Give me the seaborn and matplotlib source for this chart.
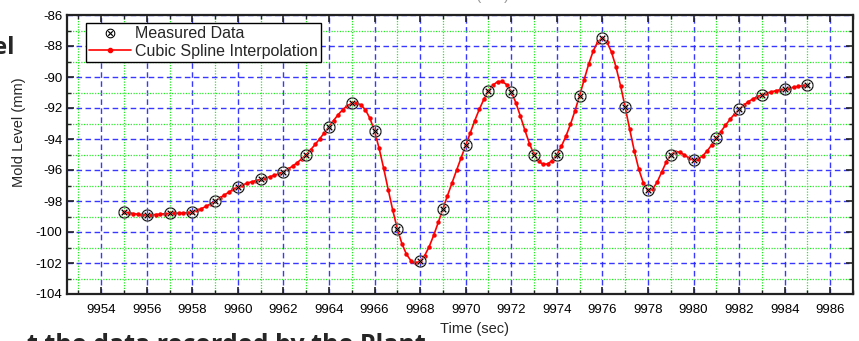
import numpy as np
import pandas as pd
import matplotlib
matplotlib.use("Agg")
import matplotlib.pyplot as plt
import seaborn as sns
from matplotlib.ticker import MultipleLocator
from matplotlib.lines import Line2D

# ---- data ----
time_sec = list(range(9955, 9986))
mold_level = [-98.7, -98.9, -98.8, -98.7, -98.0, -97.1, -96.6, -96.1, -95.0, -93.2,
              -91.7, -93.5, -99.8, -101.9, -98.5, -94.4, -90.9, -90.95, -95.0, -95.0,
              -91.2, -87.5, -91.95, -97.3, -95.0, -95.35, -93.95, -92.08, -91.15, -90.77,
              -90.5]
x_ticks = list(range(9954, 9987, 2))
y_ticks = list(range(-104, -85, 2))
legend_labels = ["Measured Data", "Cubic Spline Interpolation"]


def natural_spline(x, y, xs):
    x = np.asarray(x, float); y = np.asarray(y, float)
    n = len(x)
    h = np.diff(x)
    A = np.zeros((n, n)); b = np.zeros(n)
    A[0, 0] = 1; A[-1, -1] = 1
    for i in range(1, n - 1):
        A[i, i - 1] = h[i - 1]
        A[i, i] = 2 * (h[i - 1] + h[i])
        A[i, i + 1] = h[i]
        b[i] = 3 * ((y[i + 1] - y[i]) / h[i] - (y[i] - y[i - 1]) / h[i - 1])
    c = np.linalg.solve(A, b)
    bb = (y[1:] - y[:-1]) / h - h * (2 * c[:-1] + c[1:]) / 3
    d = (c[1:] - c[:-1]) / (3 * h)
    idx = np.clip(np.searchsorted(x, xs) - 1, 0, n - 2)
    dx = xs - x[idx]
    return y[idx] + bb[idx] * dx + c[idx] * dx ** 2 + d[idx] * dx ** 3


xs = np.linspace(time_sec[0], time_sec[-1], 151)
spline_df = pd.DataFrame({"t": xs, "v": natural_spline(time_sec, mold_level, xs)})
meas_df = pd.DataFrame({"t": time_sec, "v": mold_level})

sns.set_style("ticks")
plt.rcParams["font.family"] = ["Liberation Sans", "DejaVu Sans"]
plt.rcParams["axes.unicode_minus"] = False

fig = plt.figure(figsize=(8.59, 3.41), dpi=100)
ax = fig.add_axes([67 / 859, 47 / 341, 786 / 859, 279 / 341])

ax.xaxis.set_minor_locator(MultipleLocator(1))
ax.yaxis.set_minor_locator(MultipleLocator(1))
ax.set_xticks(x_ticks)
ax.set_yticks(y_ticks)

ax.grid(which="major", color="#2222ff", linestyle=(0, (4, 2.5)), linewidth=1.0, alpha=0.9)
ax.grid(which="minor", color="#22ee22", linestyle=(0, (1, 1.2)), linewidth=0.9)
ax.set_axisbelow(True)

sns.lineplot(data=spline_df, x="t", y="v", ax=ax, color="red", linewidth=1.2,
             marker="o", markersize=3.2, markeredgewidth=0, zorder=3, legend=False)
sns.lineplot(data=meas_df, x="t", y="v", ax=ax, linestyle="none", marker=r"$\otimes$",
             markersize=9, color="black", markeredgewidth=0.2, zorder=4, legend=False)

ax.set_xlim(9952.5, 9987)
ax.set_ylim(-104, -86)

for s in ax.spines.values():
    s.set_linewidth(1.6)
    s.set_color("#222222")
ax.tick_params(which="both", direction="in", top=True, right=True, labelsize=9.5,
               colors="#222222", labelcolor="black")
ax.tick_params(which="major", length=5, width=1.2)
ax.tick_params(which="minor", length=3, width=1.0)
ax.tick_params(axis="x", pad=7)

ax.set_xlabel("Time (sec)", fontsize=10.5, labelpad=1)
ax.set_ylabel("Mold Level (mm)", fontsize=10.5, labelpad=2)
ax.xaxis.set_label_coords(0.519, -0.1)
ax.yaxis.set_label_coords(-0.052, 0.58)

handles = [
    Line2D([], [], linestyle="none", marker=r"$\otimes$", color="black", markersize=7,
           markeredgewidth=0),
    Line2D([], [], color="red", linewidth=1.2, marker="o", markersize=3),
]
leg = ax.legend(handles, legend_labels, loc="upper left", bbox_to_anchor=(0.024, 0.971),
                fontsize=11.5, frameon=True, fancybox=False, framealpha=1,
                edgecolor="black", borderpad=0.2, handletextpad=0.25,
                labelspacing=0.15, handlelength=2.6, borderaxespad=0)
leg.get_frame().set_linewidth(1.0)

# cropped fragments of surrounding page text
fig.text(14 / 859, 1 - 48 / 341, "Mold Level", ha="right", va="center",
         fontsize=17, fontweight="bold", family=["Open Sans", "DejaVu Sans"])
fig.text(27 / 859, 1 - 352 / 341, "t the data recorded by the Plant", ha="left",
         va="baseline", fontsize=18, fontweight="bold", family=["Open Sans", "DejaVu Sans"])
fig.text(475 / 859, 1 - (-4) / 341, "Time (sec)", ha="center", va="center",
         fontsize=10.5, color="#999999")

fig.savefig("out.png", dpi=100)
